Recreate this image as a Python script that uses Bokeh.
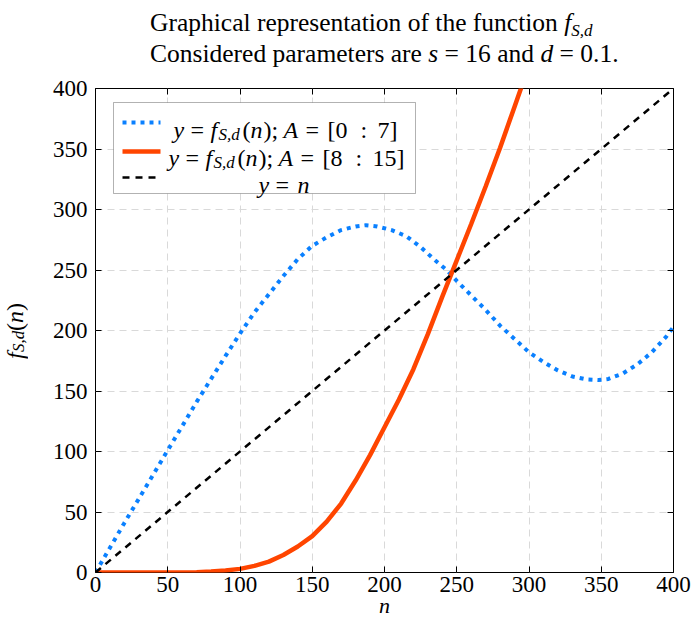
from bokeh.plotting import figure
from bokeh.layouts import column, row
from bokeh.models import (Range1d, FixedTicker, LinearAxis, Label, BoxAnnotation, Arrow, Div)
from bokeh.embed import file_html
from bokeh.resources import INLINE

# ---------------- data ----------------
x_ticks = [0, 50, 100, 150, 200, 250, 300, 350, 400]
y_ticks = [0, 50, 100, 150, 200, 250, 300, 350, 400]

# y = f_{S,d}(n), A = [0:7]  (blue, dotted)
blue_n = [0, 10, 20, 30, 40, 50, 60, 70, 80, 90, 100, 110, 120, 130, 140, 150,
          160, 170, 180, 187, 195, 205, 215, 225, 235, 243, 250, 260, 270, 280,
          290, 300, 310, 320, 330, 340, 348, 355, 365, 375, 385, 395, 400]
blue_f = [0, 20.5, 41, 61, 81, 101, 121, 141, 160, 179, 197.5, 215, 230, 245, 259, 270,
          277, 283, 286, 287, 286, 283, 278, 269, 258, 250, 241, 229, 217, 204,
          193, 182, 174, 167, 162, 159.5, 159, 160, 164.5, 172, 182, 195, 203]

# y = f_{S,d}(n), A = [8:15]  (orange, solid)
orange_n = [0, 50, 60, 70, 80, 90, 100, 110, 120, 130, 140, 150, 160, 170, 180,
            190, 200, 210, 220, 230, 240, 250, 260, 270, 280, 290, 295, 300]
orange_f = [0, 0, 0.1, 0.3, 0.8, 1.6, 3, 5.5, 9, 14.5, 21.5, 30, 42, 57, 76,
            97, 120, 143, 168, 197, 228, 258, 288, 319, 351, 385, 402, 420]

# y = n  (black, dashed)
ident_n = [0, 400]
ident_y = [0, 400]

FONT = "Liberation Serif"
BLUE = "#0a80ff"
ORANGE = "#ff4500"

TOP_H, YLAB_W = 70, 30
W, H = 691 - YLAB_W, 620 - TOP_H
BL, BR, BT, BB = 95 - YLAB_W, 18, 88 - TOP_H, TOP_H + H - 573
FL = YLAB_W + BL                       # frame left, page px
FB = TOP_H + H - BB                    # frame bottom, page px

p = figure(width=W, height=H, output_backend="svg", toolbar_location=None,
           x_range=Range1d(0, 400), y_range=Range1d(0, 400),
           min_border_left=BL, min_border_right=BR, min_border_top=BT, min_border_bottom=BB,
           background_fill_color="white", border_fill_color="white", margin=0)
p.outline_line_color = "black"
p.outline_line_width = 1

xt = FixedTicker(ticks=x_ticks, minor_ticks=[])
yt = FixedTicker(ticks=y_ticks, minor_ticks=[])

for ax in p.xaxis:
    ax.ticker = xt
    ax.major_label_standoff = 4
    ax.axis_label = "n"
    ax.axis_label_text_font = FONT
    ax.axis_label_text_font_size = "22px"
    ax.axis_label_text_font_style = "italic"
    ax.axis_label_text_color = "black"
    ax.axis_label_standoff = -2
for ax in p.yaxis:
    ax.ticker = yt
    ax.major_label_standoff = 8
for ax in list(p.xaxis) + list(p.yaxis):
    ax.axis_line_color = None
    ax.major_tick_in = 6
    ax.major_tick_out = 0
    ax.major_tick_line_color = "black"
    ax.minor_tick_line_color = None
    ax.major_label_text_font = FONT
    ax.major_label_text_font_size = "23px"
    ax.major_label_text_color = "black"

for loc, tk, ticks in (("above", xt, x_ticks), ("right", yt, y_ticks)):
    ax = LinearAxis(ticker=tk, axis_line_color=None, major_tick_in=6, major_tick_out=0,
                    major_tick_line_color="black", minor_tick_line_color=None,
                    major_label_overrides={t: "" for t in ticks}, major_label_standoff=0)
    p.add_layout(ax, loc)

p.xgrid.ticker = xt
p.ygrid.ticker = yt
for g in (p.xgrid, p.ygrid):
    g.grid_line_color = "#d9d9d9"
    g.grid_line_dash = "7 5"
    g.grid_line_width = 1

p.line(blue_n, blue_f, line_color=BLUE, line_width=4, line_dash="4 5")
p.line(orange_n, orange_f, line_color=ORANGE, line_width=4.5)
p.line(ident_n, ident_y, line_color="black", line_width=2.5, line_dash="7 6")


def put(txt, px, py, size=24, italic=False, align="left"):
    p.add_layout(Label(x=px - FL, y=FB - py, x_units="screen", y_units="screen",
                       text=txt, text_font=FONT, text_font_size=f"{size}px",
                       text_font_style="italic" if italic else "normal",
                       text_align=align, text_baseline="alphabetic",
                       text_color="black"))


# ---- legend ----
p.add_layout(BoxAnnotation(left=113 - FL, right=415 - FL, top=FB - 103, bottom=FB - 194,
                           left_units="screen", right_units="screen",
                           top_units="screen", bottom_units="screen",
                           fill_color="white", fill_alpha=1, line_color="black", line_width=1))


def sample(py, color, width, dash):
    p.add_layout(Arrow(end=None, x_start=122 - FL, x_end=160 - FL, y_start=FB - py, y_end=FB - py,
                       start_units="screen", end_units="screen",
                       line_color=color, line_width=width, line_dash=dash))


sample(123, BLUE, 4, "4 5")
sample(152, ORANGE, 4.5, "solid")
sample(178, "black", 2.5, "7 6")


def entry(dx, by, last):
    put("y", 173 + dx, by, italic=True)
    put("=", 190 + dx, by)
    put("f", 210 + dx, by, italic=True)
    put("S,d", 218 + dx, by + 5, size=17, italic=True)
    put("(", 242 + dx, by)
    put("n", 250 + dx, by, italic=True)
    put(");", 263 + dx, by)
    put("A", 283 + dx, by, italic=True)
    put("=", 305 + dx, by)
    put("[" + last[0], 327 + dx, by)
    put(":", 360 + dx, by)
    put(last[1] + "]", 377 + dx, by)


entry(0, 130, ("0", "7"))
entry(-5, 158, ("8", "15"))
put("y", 258, 185, italic=True)
put("=", 275, 185)
put("n", 297, 185, italic=True)

# ---- title and y-axis label (HTML text around the figure) ----
SUB = "font-size:17px;position:relative;top:5px;font-style:italic"
title = Div(width=691, height=TOP_H, margin=0, text=(
    f'<div style="box-sizing:border-box;width:691px;padding:9px 0 0 150px;text-align:left;'
    f'font-family:\'{FONT}\';font-size:25.5px;line-height:28px;color:black;white-space:nowrap">'
    f'Graphical representation of the function <i>f</i><span style="{SUB}">S,d</span><br>'
    f'Considered parameters are <i>s</i> = 16 and <i>d</i> = 0.1.</div>'))

ylab = Div(width=YLAB_W, height=H, margin=0, text=(
    f'<div style="box-sizing:border-box;width:{YLAB_W}px;height:{H}px;padding-bottom:28px;'
    f'display:flex;align-items:center;justify-content:center">'
    f'<div style="writing-mode:vertical-rl;transform:rotate(180deg);font-family:\'{FONT}\';'
    f'font-size:24px;line-height:26px;color:black;white-space:nowrap">'
    f'<i>f</i><span style="font-size:17px;position:relative;left:-4px;font-style:italic">S,d</span>'
    f'(<i>n</i>)</div></div>'))

layout = column(title, row(ylab, p, margin=0, spacing=0), margin=0, spacing=0)

open("out.html", "w").write(file_html(layout, INLINE))
